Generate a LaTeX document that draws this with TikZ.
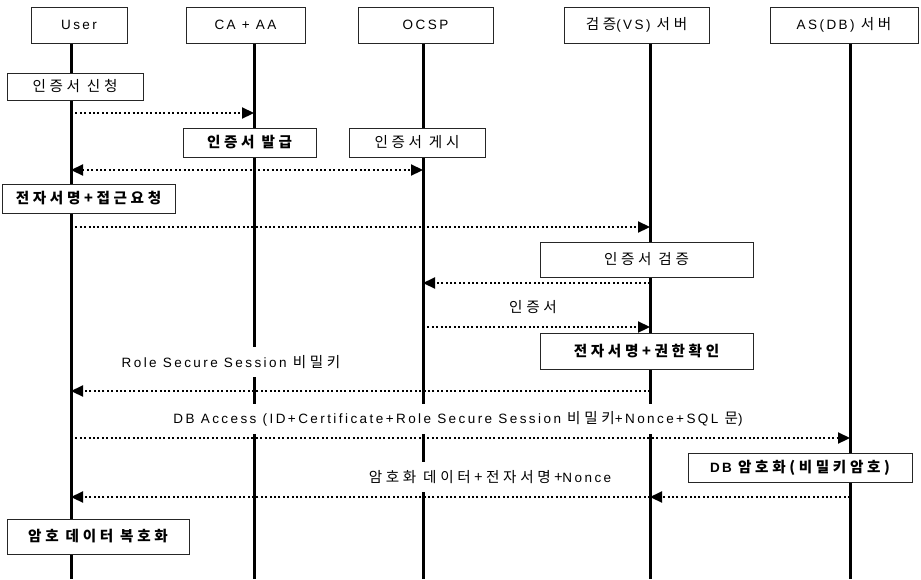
\documentclass[tikz,border=0pt]{standalone}
\usepackage{fontspec}
\setmainfont{Liberation Sans}[LetterSpace=18]
\newfontfamily\kr{Noto Sans CJK KR}[LetterSpace=25, Scale=1.08]
\usetikzlibrary{arrows.meta}
\begin{document}
\begin{tikzpicture}[x=1pt,y=-1pt,
  every node/.style={font=\fontsize{13.5}{16}\selectfont},
  headbox/.style={draw=black!85, line width=0.8pt, fill=white, minimum height=36pt, inner sep=0pt},
  actbox/.style={draw=black!85, line width=0.8pt, fill=white, inner sep=0pt},
  msglabel/.style={fill=white, inner xsep=2pt, inner ysep=8pt},
  msg/.style={line width=2.2pt, dash pattern=on 2pt off 2.4pt, -{Triangle[length=12pt,width=11pt]}},
  msgboth/.style={line width=2.2pt, dash pattern=on 2pt off 2.4pt, {Triangle[length=12pt,width=11pt]}-{Triangle[length=12pt,width=11pt]}},
  lifeline/.style={line width=3pt}]
\useasboundingbox (0,0) rectangle (921,579);

% lifeline coordinates
\foreach \n/\x in {u/71,c/254,o/423,v/650,a/850}{
  \coordinate (\n T) at (\x,43);
  \coordinate (\n B) at (\x,579);
}
% message end points
\coordinate (u113) at (71,113);  \coordinate (c113) at (254,113);
\coordinate (u170) at (71,170);  \coordinate (o170) at (423,170);
\coordinate (u227) at (71,227);  \coordinate (v227) at (650,227);
\coordinate (v283) at (650,283); \coordinate (o283) at (423,283);
\coordinate (o327) at (423,327); \coordinate (v327) at (650,327);
\coordinate (v391) at (650,391); \coordinate (u391) at (71,391);
\coordinate (u438) at (71,438);  \coordinate (a438) at (850,438);
\coordinate (a497) at (850,497); \coordinate (v497) at (650,497);
\coordinate (u497) at (71,497);

% messages
\draw[msg] (u113) -- (c113);
\draw[msgboth] (u170) -- (o170);
\draw[msg] (u227) -- (v227);
\draw[msg] (v283) -- (o283);
\draw[msg] (o327) -- (v327);
\draw[msg] (v391) -- (u391);
\draw[msg] (u438) -- (a438);
\draw[msg] (a497) -- (v497);
\draw[msg] (v497) -- (u497);

% lifelines
\foreach \n in {u,c,o,v,a}{ \draw[lifeline] (\n T) -- (\n B); }

% headers
\node[headbox, minimum width=96pt]  (user) at (79,25)    {User};
\node[headbox, minimum width=119pt] (ca)   at (245.5,25) {CA + AA};
\node[headbox, minimum width=135pt] (ocsp) at (425.5,25) {OCSP};
\node[headbox, minimum width=145pt] (vs)   at (636.5,25) {{\kr 검증}(VS) {\kr 서버}};
\node[headbox, minimum width=148pt] (as)   at (844,25)   {AS(DB) {\kr 서버}};

% activity boxes
\node[actbox, minimum width=136pt, minimum height=27pt] (a1) at (75,86.5)    {\kr 인증서 신청};
\node[actbox, minimum width=133pt, minimum height=29pt] (a2) at (249.5,142.5) {\kr\bfseries 인증서 발급};
\node[actbox, minimum width=136pt, minimum height=29pt] (a3) at (417,142.5)  {\kr 인증서 게시};
\node[actbox, minimum width=173pt, minimum height=29pt] (a4) at (88.5,198.5) {\kr\bfseries 전자서명+접근요청};
\node[actbox, minimum width=213pt, minimum height=35pt] (a5) at (646.5,259.5) {\kr 인증서 검증};
\node[actbox, minimum width=213pt, minimum height=36pt] (a6) at (646.5,351)  {\kr\bfseries 전자서명+권한확인};
\node[actbox, minimum width=224pt, minimum height=29pt] (a7) at (800,467.5)  {{\bfseries DB} {\kr\bfseries 암호화(비밀키암호)}};
\node[actbox, minimum width=182pt, minimum height=35pt] (a8) at (98,536.5)   {\kr\bfseries 암호 데이터 복호화};

% message labels
\node[msglabel] (l1) at (533,307) {\kr 인증서};
\node[msglabel] (l2) at (231,362) {Role Secure Session {\kr 비밀키}};
\node[msglabel] (l3) at (458,419) {DB Access (ID+Certificate+Role Secure Session {\kr 비밀키}+Nonce+SQL {\kr 문})};
\node[msglabel] (l4) at (490,477) {{\kr 암호화 데이터+전자서명+}Nonce};
\end{tikzpicture}
\end{document}
